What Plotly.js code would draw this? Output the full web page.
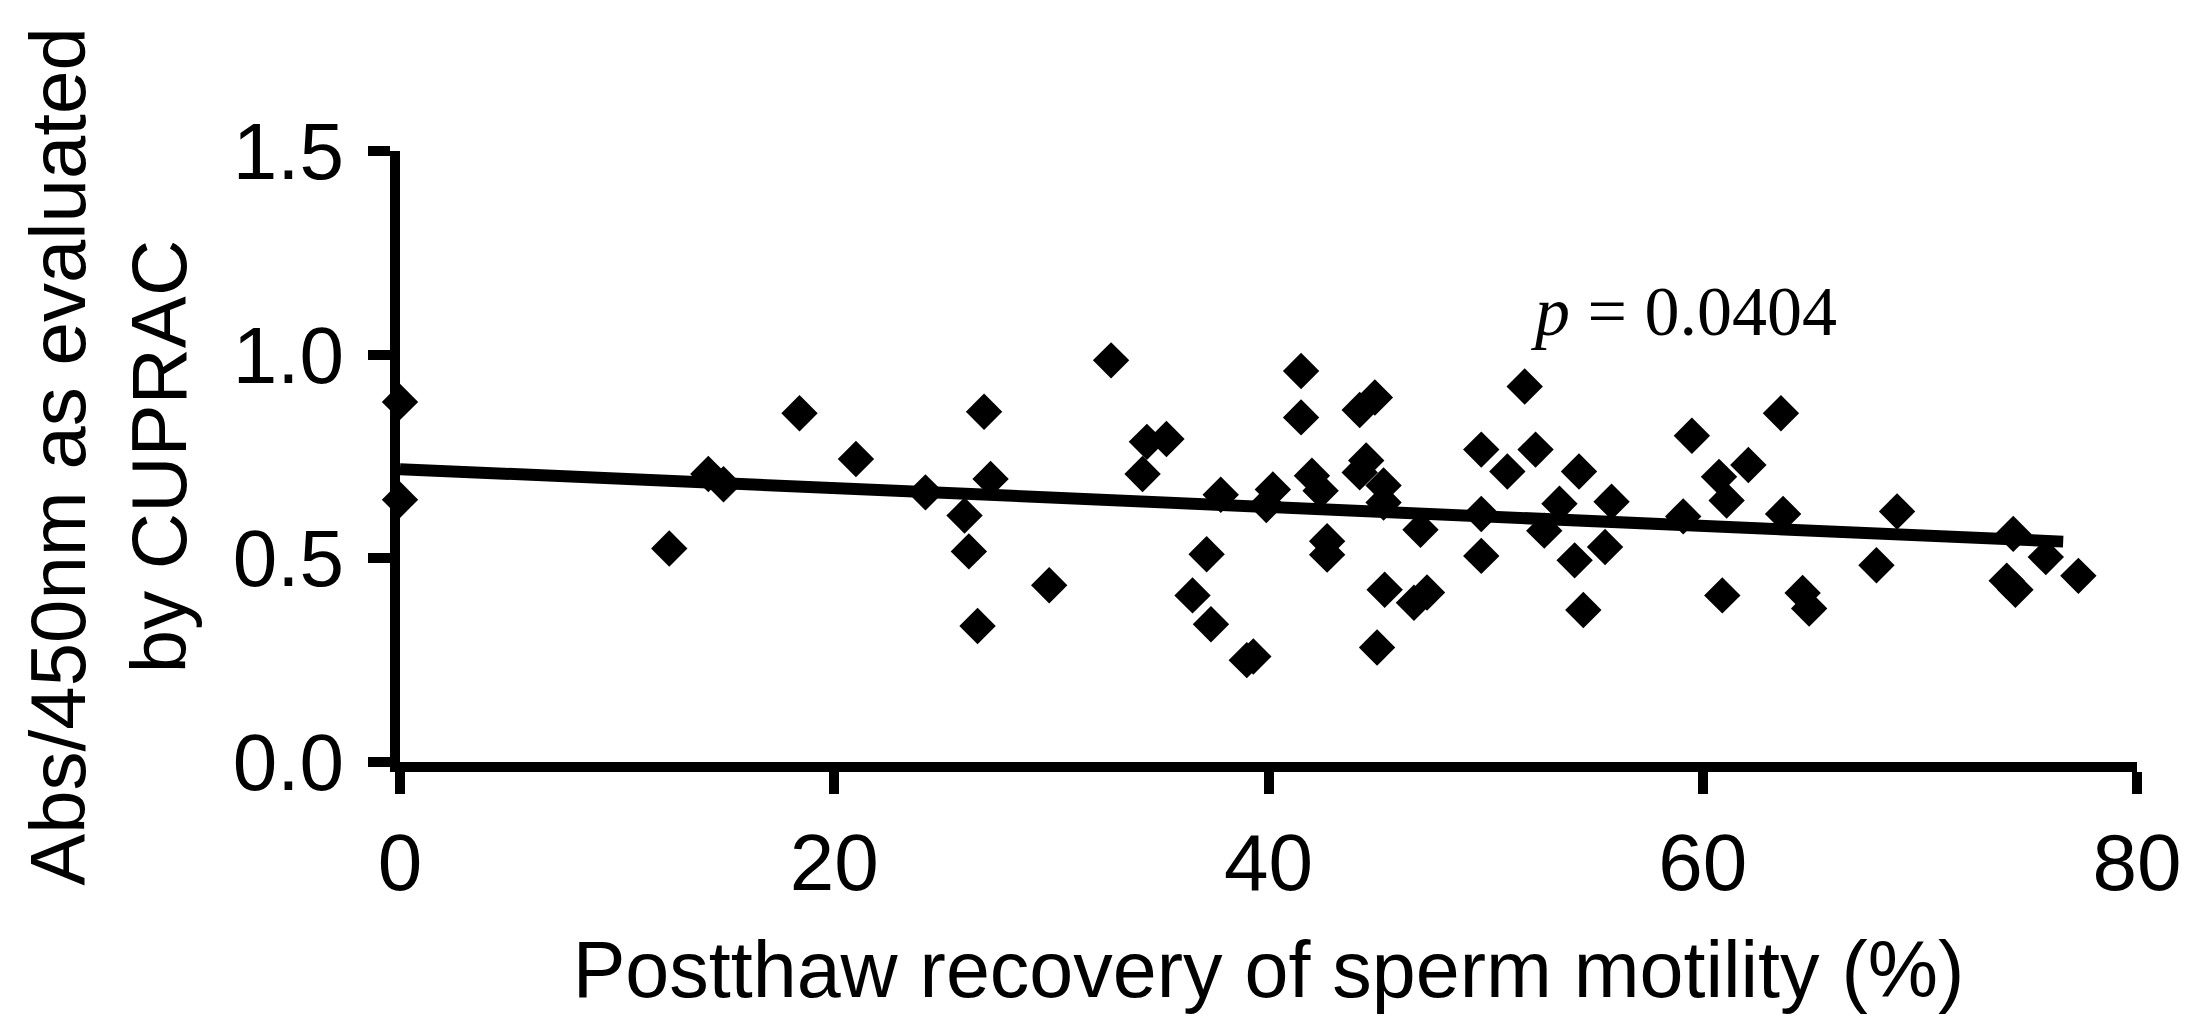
<!DOCTYPE html>
<html>
<head>
<meta charset="utf-8">
<script src="https://cdn.plot.ly/plotly-3.0.1.min.js"></script>
<style>
  html, body { margin: 0; padding: 0; background: white; }
  #chart { width: 2190px; height: 1030px; }
</style>
</head>
<body>
<div id="chart"></div>
<script>
// Postthaw recovery of sperm motility (%) for each sample
const motility = [
    0, 0, 12.4, 14.2, 14.9, 18.4, 21.0, 24.2, 26.0, 26.2,
    26.6, 26.9, 27.2, 29.9, 32.75, 34.2, 34.4, 35.3, 36.5, 37.15,
    37.35, 37.8, 39.0, 39.3, 39.9, 40.2, 41.5, 41.5, 42.0, 42.4,
    42.7, 42.7, 44.2, 44.9, 44.5, 44.2, 45.3, 45.3, 45.35, 45.0,
    46.7, 47.3, 47.0, 49.8, 49.8, 49.8, 51.0, 51.8, 52.3, 52.7,
    53.4, 54.1, 54.3, 54.5, 55.5, 55.8, 59.1, 59.5, 60.75, 60.9,
    61.1, 62.1, 63.6, 63.7, 64.6, 64.9, 68.0, 68.95, 74.0, 74.4,
    74.3, 75.8, 77.3
];

// Abs/450nm (CUPRAC) for the same samples
const cuprac = [
    0.884, 0.644, 0.524, 0.707, 0.682, 0.856, 0.744, 0.662, 0.605, 0.517,
    0.334, 0.860, 0.695, 0.434, 0.986, 0.707, 0.786, 0.793, 0.409, 0.510,
    0.338, 0.656, 0.250, 0.259, 0.631, 0.669, 0.960, 0.846, 0.703, 0.666,
    0.542, 0.509, 0.864, 0.895, 0.740, 0.711, 0.679, 0.637, 0.423, 0.281,
    0.391, 0.416, 0.570, 0.767, 0.609, 0.506, 0.713, 0.922, 0.767, 0.568,
    0.634, 0.495, 0.713, 0.373, 0.528, 0.639, 0.603, 0.801, 0.700, 0.409,
    0.642, 0.729, 0.856, 0.609, 0.415, 0.377, 0.483, 0.615, 0.445, 0.423,
    0.560, 0.503, 0.457
];

// regression line end points
const fitX = [0, 76.6];
const fitY = [0.719, 0.541];

const xTicks = [0, 20, 40, 60, 80];
const yTicks = [0.0, 0.5, 1.0, 1.5];
const yTickText = ['0.0', '0.5', '1.0', '1.5'];

const pLabel = '<i>p</i> = 0.0404';
const pPos = { x: 51.95, y: 1.105 };

const points = {
    x: motility,
    y: cuprac,
    type: 'scatter',
    mode: 'markers',
    marker: { symbol: 'diamond', size: 28, color: 'black', line: { width: 0 } },
    cliponaxis: false,
    hoverinfo: 'x+y'
};

const fit = {
    x: fitX,
    y: fitY,
    type: 'scatter',
    mode: 'lines',
    line: { color: 'black', width: 12 },
    cliponaxis: false,
    hoverinfo: 'skip'
};

const tickFont = { family: 'Liberation Sans, Arial, sans-serif', size: 80, color: 'black' };

const layout = {
    width: 2190,
    height: 1030,
    showlegend: false,
    plot_bgcolor: 'white',
    paper_bgcolor: 'white',
    margin: { l: 400, r: 53, t: 151, b: 268 },
    xaxis: {
        range: [0, 80],
        tickvals: xTicks,
        ticktext: xTicks.map(String),
        showgrid: false,
        zeroline: false,
        showline: true,
        linewidth: 10,
        linecolor: 'black',
        ticks: 'outside',
        ticklen: 22,
        tickwidth: 10,
        tickcolor: 'black',
        tickfont: tickFont,
        automargin: false,
        title: {
            text: 'Postthaw recovery of sperm motility (%)',
            font: { family: 'Liberation Sans, Arial, sans-serif', size: 79, color: 'black' },
            standoff: 40
        }
    },
    yaxis: {
        range: [0, 1.5],
        tickvals: yTicks,
        ticktext: yTickText,
        showgrid: false,
        zeroline: false,
        showline: true,
        linewidth: 10,
        linecolor: 'black',
        ticks: 'outside',
        ticklen: 22,
        tickwidth: 10,
        tickcolor: 'black',
        tickfont: tickFont,
        ticklabelstandoff: 8,
        automargin: false,
        title: {
            text: 'Abs/450nm as evaluated<br>by CUPRAC',
            font: { family: 'Liberation Sans, Arial, sans-serif', size: 78, color: 'black' },
            standoff: 24
        }
    },
    annotations: [
        {
            x: pPos.x,
            y: pPos.y,
            xref: 'x',
            yref: 'y',
            xanchor: 'left',
            yanchor: 'middle',
            text: pLabel,
            showarrow: false,
            font: { family: 'Liberation Serif, Times New Roman, serif', size: 70, color: 'black' }
        }
    ]
};

Plotly.newPlot('chart', [fit, points], layout, { displayModeBar: false, staticPlot: true });
</script>
</body>
</html>
